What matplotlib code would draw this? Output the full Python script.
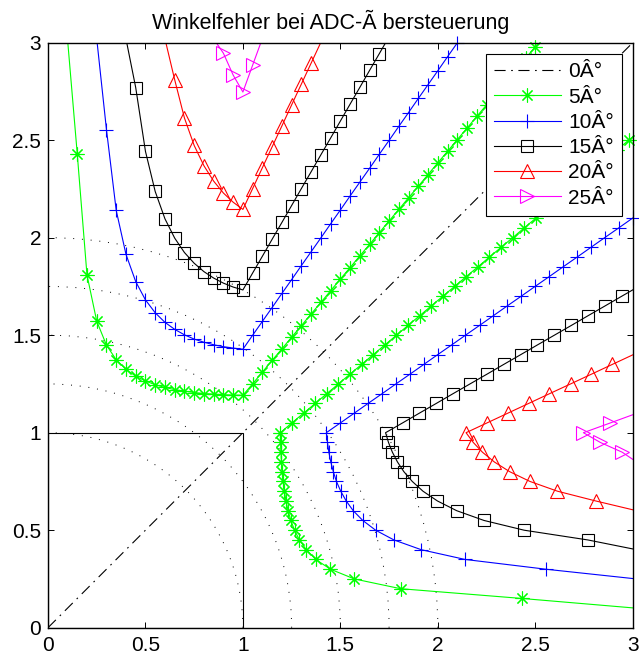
import numpy as np
import matplotlib
matplotlib.use("Agg")
import matplotlib.pyplot as plt
from matplotlib.patches import Arc, Rectangle
from matplotlib.lines import Line2D

plt.rcParams["font.family"] = ["Liberation Sans", "DejaVu Sans"]

# saturation level and reference circles
sat = 1.0
radii = [1.0, 1.25, 1.5, 1.75, 2.0]

# 0 deg reference
x0 = [0.0, 3.0]
y0 = [0.0, 3.0]

# upper branch of each error curve (lower branch = same points, x/y swapped)
x5 = [0.10, 0.15, 0.20, 0.25, 0.30, 0.35, 0.40, 0.45, 0.50, 0.55,
      0.60, 0.65, 0.70, 0.75, 0.80, 0.85, 0.90, 0.95, 1.00, 1.05,
      1.10, 1.15, 1.20, 1.25, 1.30, 1.35, 1.40, 1.45, 1.50, 1.55,
      1.60, 1.65, 1.70, 1.75, 1.80, 1.85, 1.90, 1.95, 2.00, 2.05,
      2.10, 2.15, 2.20, 2.25, 2.30, 2.35, 2.40, 2.45, 2.50, 2.55]
y5 = [3.02, 2.431, 1.809, 1.572, 1.449, 1.374, 1.325, 1.290, 1.265, 1.246,
      1.232, 1.221, 1.213, 1.206, 1.201, 1.198, 1.195, 1.193, 1.192, 1.251,
      1.311, 1.371, 1.430, 1.490, 1.549, 1.609, 1.668, 1.728, 1.788, 1.847,
      1.907, 1.966, 2.026, 2.086, 2.145, 2.205, 2.264, 2.324, 2.384, 2.443,
      2.503, 2.562, 2.622, 2.681, 2.741, 2.801, 2.860, 2.920, 2.979, 3.039]

x10 = [0.25, 0.30, 0.35, 0.40, 0.45, 0.50, 0.55, 0.60, 0.65, 0.70,
       0.75, 0.80, 0.85, 0.90, 0.95, 1.00, 1.05, 1.10, 1.15, 1.20,
       1.25, 1.30, 1.35, 1.40, 1.45, 1.50, 1.55, 1.60, 1.65, 1.70,
       1.75, 1.80, 1.85, 1.90, 1.95, 2.00, 2.05, 2.10, 2.15]
y10 = [3.02, 2.554, 2.140, 1.915, 1.775, 1.681, 1.615, 1.566, 1.530, 1.502,
       1.480, 1.464, 1.451, 1.441, 1.434, 1.428, 1.500, 1.571, 1.642, 1.714,
       1.785, 1.857, 1.928, 1.999, 2.071, 2.142, 2.214, 2.285, 2.356, 2.428,
       2.499, 2.571, 2.642, 2.714, 2.785, 2.856, 2.928, 2.999, 3.071]

x15 = [0.40, 0.45, 0.50, 0.55, 0.60, 0.65, 0.70, 0.75, 0.80, 0.85,
       0.90, 0.95, 1.00, 1.05, 1.10, 1.15, 1.20, 1.25, 1.30, 1.35,
       1.40, 1.45, 1.50, 1.55, 1.60, 1.65, 1.70, 1.75]
y15 = [3.02, 2.770, 2.443, 2.237, 2.097, 1.998, 1.924, 1.869, 1.826, 1.793,
       1.767, 1.747, 1.732, 1.819, 1.905, 1.992, 2.078, 2.165, 2.252, 2.338,
       2.425, 2.511, 2.598, 2.685, 2.771, 2.858, 2.944, 3.031]

x20 = [0.60, 0.65, 0.70, 0.75, 0.80, 0.85, 0.90, 0.95, 1.00, 1.05,
       1.10, 1.15, 1.20, 1.25, 1.30, 1.35, 1.40]
y20 = [3.02, 2.810, 2.614, 2.473, 2.369, 2.290, 2.229, 2.182, 2.145, 2.252,
       2.359, 2.466, 2.573, 2.681, 2.788, 2.895, 3.002]

x25 = [0.85, 0.90, 0.95, 1.00, 1.05, 1.10]
y25 = [3.02, 2.946, 2.834, 2.747, 2.885, 3.022]

labels = ["0Â°", "5Â°", "10Â°", "15Â°", "20Â°", "25Â°"]
ticks = [0, 0.5, 1, 1.5, 2, 2.5, 3]
tick_labels = ["0", "0.5", "1", "1.5", "2", "2.5", "3"]

curves = [
    (x5, y5, "#00ff00", (8, 2, 0), 10),
    (x10, y10, "#0000ff", "+", 10.5),
    (x15, y15, "k", "s", 8.5),
    (x20, y20, "#ff0000", "^", 9.5),
    (x25, y25, "#ff00ff", ">", 9.5),
]

fig = plt.figure(figsize=(6.39, 6.57), dpi=100)
ax = fig.add_axes([48 / 639, 1 - 627.7 / 657, 584.7 / 639, 585 / 657])
ax.set_xlim(0, 3)
ax.set_ylim(0, 3)

for r in radii:
    ax.add_patch(Arc((0, 0), 2 * r, 2 * r, theta1=0, theta2=90,
                     color="k", lw=0.7, linestyle=(0, (1, 8))))
ax.add_patch(Rectangle((0, 0), sat, sat, fill=False, ec="k", lw=0.8))

dashdot = (0, (10, 5, 1.5, 5))
ax.plot(x0, y0, color="k", lw=0.8, linestyle=dashdot)

handles = [Line2D([], [], color="k", lw=0.8, linestyle=dashdot)]
for xs, ys, c, mk, ms in curves:
    xs = np.array(xs)
    ys = np.array(ys)
    for a, b in [(xs, ys), (ys, xs)]:
        ax.plot(a, b, color=c, lw=0.8)
        m = (a >= 0) & (a <= 3) & (b >= 0) & (b <= 3)
        ax.plot(a[m], b[m], ls="none", marker=mk, ms=ms, mfc="none",
                mec=c, mew=0.8, clip_on=False)
    handles.append(Line2D([], [], color=c, lw=0.8, marker=mk, ms=ms,
                          mfc="none", mec=c, mew=0.8))

ax.set_xticks(ticks)
ax.set_xticklabels(tick_labels)
ax.set_yticks(ticks)
ax.set_yticklabels(tick_labels)
ax.tick_params(direction="in", top=True, right=True, length=4, width=0.7,
               labelsize=15)
ax.tick_params(axis="x", pad=6)
ax.tick_params(axis="y", pad=5)
for s in ax.spines.values():
    s.set_linewidth(1.0)

leg = ax.legend(handles, labels, loc="upper right",
                bbox_to_anchor=(0.9817, 0.9807), borderaxespad=0,
                fontsize=15, handlelength=3.2, handletextpad=0.35,
                borderpad=0.4, labelspacing=0.30, fancybox=False,
                framealpha=1, edgecolor="k", numpoints=1)
leg.get_frame().set_linewidth(0.8)

fig.text(331 / 639, 1 - 29.5 / 657, "Winkelfehler bei ADC-Ã bersteuerung",
         ha="center", va="baseline", fontsize=15.5)

fig.savefig("out.png", dpi=100)
